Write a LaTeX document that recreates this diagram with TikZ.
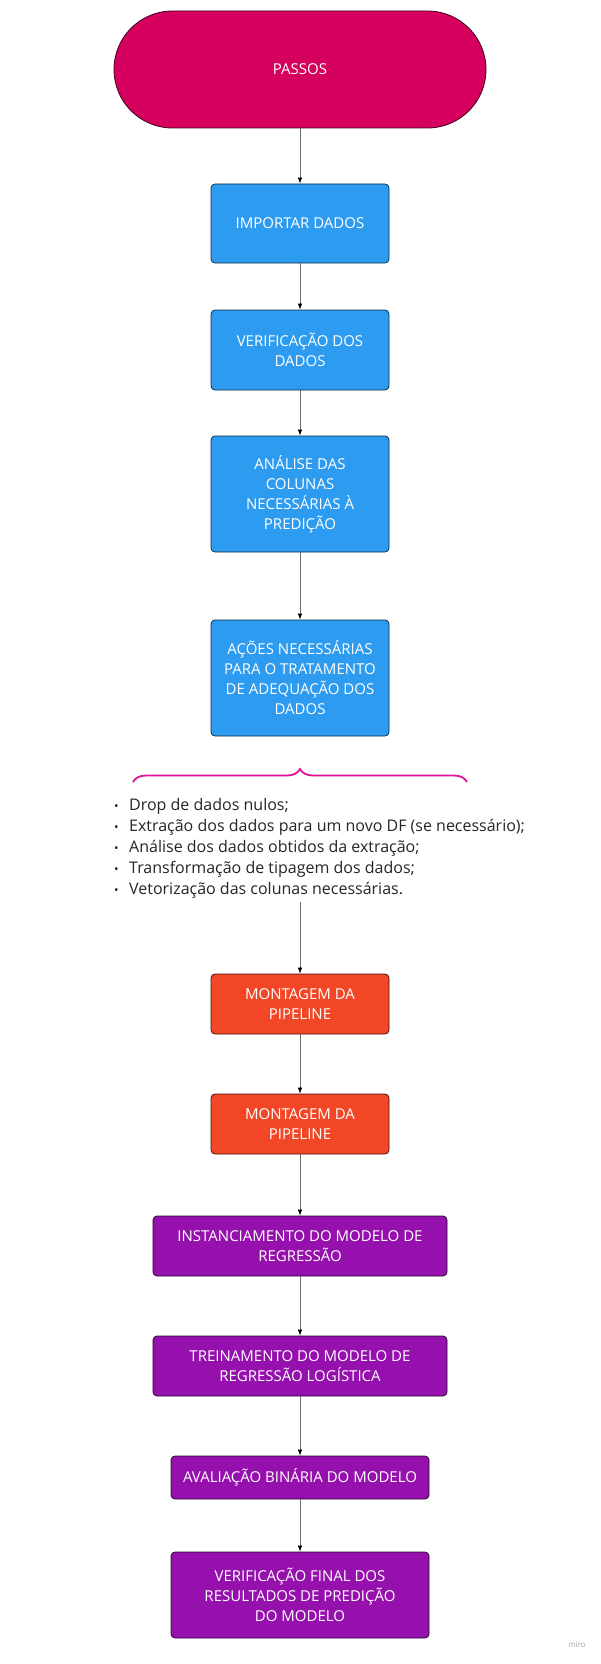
\documentclass[tikz,border=0pt]{standalone}
\usepackage{fontspec}
\setmainfont{Open Sans}
\usetikzlibrary{arrows.meta,decorations.pathreplacing}

\definecolor{cPassos}{RGB}{214,0,94}
\definecolor{cBlue}{RGB}{45,155,240}
\definecolor{cRed}{RGB}{242,71,38}
\definecolor{cPurple}{RGB}{149,16,172}
\definecolor{cBrace}{RGB}{226,18,152}
\definecolor{cLink}{RGB}{110,110,110}
\newcommand{\itm}{\makebox[15pt][l]{\fontsize{12}{12}\selectfont\textbullet}}

\begin{document}
\begin{tikzpicture}[x=1pt,y=-1pt,
	block/.style={line width=0.8pt,rounded corners=4pt,text=white,align=center,inner sep=0pt,
		minimum width=178pt,font=\fontsize{15}{20}\selectfont},
	blueblock/.style={block,fill=cBlue,draw=cBlue!30!black},
	redblock/.style={block,fill=cRed,draw=cRed!30!black,minimum height=60pt},
	purpleblock/.style={block,fill=cPurple,draw=cPurple!30!black},
	listitem/.style={anchor=base west,inner sep=0pt,text=black!85,font=\fontsize{16}{21}\selectfont},
	link/.style={draw=cLink,line width=0.7pt,-{Latex[black,length=6pt,width=4.5pt]}}]
	\useasboundingbox[fill=white] (0,0) rectangle (600,1664);

	% start
	\node[block,fill=cPassos,draw=cPassos!30!black,minimum width=372pt,minimum height=117pt,
		rounded corners=58.5pt] (passos) at (300,69.5) {PASSOS};

	% data preparation
	\node[blueblock,minimum height=79pt] (importar) at (300,223.5) {IMPORTAR DADOS};
	\node[blueblock,minimum height=80pt] (verificar) at (300,350) {VERIFICAÇÃO DOS\\DADOS};
	\node[blueblock,minimum height=116pt] (analise) at (300,494) {ANÁLISE DAS\\COLUNAS\\NECESSÁRIAS À\\PREDIÇÃO};
	\node[blueblock,minimum height=116pt] (acoes) at (300,678) {AÇÕES NECESSÁRIAS\\PARA O TRATAMENTO\\DE ADEQUAÇÃO DOS\\DADOS};

	% brace and actions
	\draw[cBrace,line width=1.8pt,decorate,decoration={brace,amplitude=13pt}] (133,782) -- (467,782);
	\foreach \t [count=\i] in {{Drop de dados nulos;},
		{Extração dos dados para um novo DF (se necessário);},
		{Análise dos dados obtidos da extração;},
		{Transformação de tipagem dos dados;},
		{Vetorização das colunas necessárias.}}
	\node[listitem] (item\i) at (114,789+21*\i) {\itm\t};
	\coordinate (listend) at (300,902);

	% pipeline
	\node[redblock] (montagemA) at (300,1004) {MONTAGEM DA\\PIPELINE};
	\node[redblock] (montagemB) at (300,1124) {MONTAGEM DA\\PIPELINE};

	% model
	\node[purpleblock,minimum width=294pt,minimum height=60pt] (instancia) at (300,1246) {INSTANCIAMENTO DO MODELO DE\\REGRESSÃO};
	\node[purpleblock,minimum width=294pt,minimum height=60pt] (treino) at (300,1366) {TREINAMENTO DO MODELO DE\\REGRESSÃO LOGÍSTICA};
	\node[purpleblock,minimum width=258pt,minimum height=43pt] (avalia) at (300,1477.5) {AVALIAÇÃO BINÁRIA DO MODELO};
	\node[purpleblock,minimum width=258pt,minimum height=86pt] (final) at (300,1595) {VERIFICAÇÃO FINAL DOS\\RESULTADOS DE PREDIÇÃO\\DO MODELO};

	\node[text=black!35,font=\fontsize{8}{8}\selectfont] (miro) at (577,1645) {miro};

	% arrows
	\draw[link] (passos) -- (importar);
	\draw[link] (importar) -- (verificar);
	\draw[link] (verificar) -- (analise);
	\draw[link] (analise) -- (acoes);
	\draw[link] (listend) -- (montagemA);
	\draw[link] (montagemA) -- (montagemB);
	\draw[link] (montagemB) -- (instancia);
	\draw[link] (instancia) -- (treino);
	\draw[link] (treino) -- (avalia);
	\draw[link] (avalia) -- (final);
\end{tikzpicture}
\end{document}
